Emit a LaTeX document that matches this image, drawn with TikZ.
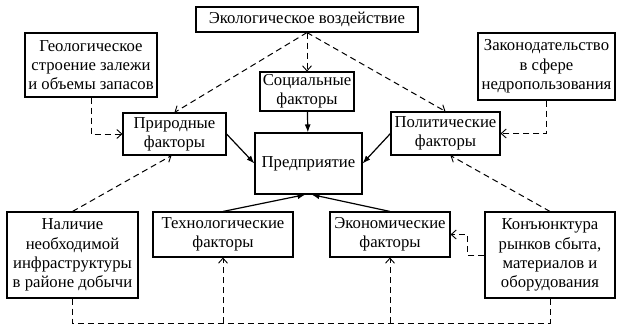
\documentclass[tikz,border=0pt]{standalone}
\usepackage{fontspec}
\setmainfont{Liberation Serif}
\usetikzlibrary{arrows.meta,positioning}

\begin{document}
\begin{tikzpicture}[
  x=1pt,y=-1pt,
  box/.style={draw,line width=1.1pt,align=center,inner sep=0pt,font=\fontsize{16.7}{19.3}\selectfont},
  arr/.style={-{Latex[length=8pt,width=6pt]},line width=1.2pt},
  darr/.style={-{Straight Barb[length=5pt,width=9pt,line width=0.9pt]},line width=1pt,dash pattern=on 6pt off 4pt},
  dline/.style={line width=1pt,dash pattern=on 6pt off 4pt}
]
\useasboundingbox (0,0) rectangle (624,329);

% top row
\node[box,minimum width=222pt,minimum height=25pt] (eco) at (307,19.5) {Экологическое воздействие};
\node[box,minimum width=94pt,minimum height=39pt] (soc) at (307,91.5) {Социальные\\факторы};
\node[box,minimum width=132pt,minimum height=64pt] (geo) at (91,65) {Геологическое\\строение залежи\\и объемы запасов};
\node[box,minimum width=137pt,minimum height=67pt] (law) at (546.5,66.5) {Законодательство\\в сфере\\недропользования};

% middle row
\node[box,minimum width=103pt,minimum height=42pt] (nat) at (174.5,134) {Природные\\факторы};
\node[box,minimum width=107pt,minimum height=61pt] (ent) at (308.5,163.5) {Предприятие};
\node[box,minimum width=109pt,minimum height=43pt] (pol) at (445.5,133.5) {Политические\\факторы};

% bottom row
\node[box,minimum width=131pt,minimum height=86pt] (infra) at (72.5,255) {Наличие\\необходимой\\инфраструктуры\\в районе добычи};
\node[box,minimum width=140pt,minimum height=45pt] (tech) at (223,234.5) {Технологические\\факторы};
\node[box,minimum width=120pt,minimum height=45pt] (econ) at (390,234.5) {Экономические\\факторы};
\node[box,minimum width=130pt,minimum height=86pt] (market) at (550,255) {Конъюнктура\\рынков сбыта,\\материалов и\\оборудования};
\coordinate (bus) at (0,323);

% direct influence
\draw[arr] (soc) -- (ent);
\draw[arr] (nat.east) -- (ent.west);
\draw[arr] (pol.west) -- (ent.east);
\draw[arr] (tech.north) -- ([xshift=-3pt]ent.south);
\draw[arr] (econ.north) -- ([xshift=3pt]ent.south);

% indirect influence
\draw[darr] (eco.south) -- (soc.north);
\draw[darr] (eco.south) -- (nat.north);
\draw[darr] (eco.south) -- (pol.north);
\draw[darr] (geo.south) |- (nat.west);
\draw[darr] (law.south) |- (pol.east);
\draw[darr] (infra.north) -- ([xshift=-3pt]nat.south);
\draw[darr] (market.north) -- ([xshift=5pt]pol.south);
\draw[darr] (market.west) -- ++(-17,0) |- (econ.east);
\draw[dline] (infra.south) -- (infra.south |- bus) -| (market.south);
\draw[darr] (tech.south |- bus) -- (tech.south);
\draw[darr] (econ.south |- bus) -- (econ.south);
\end{tikzpicture}
\end{document}
